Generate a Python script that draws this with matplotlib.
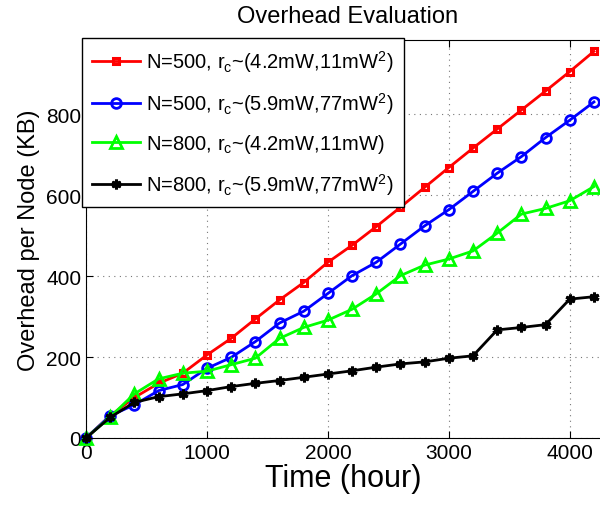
import matplotlib
matplotlib.use("Agg")
import matplotlib.pyplot as plt

plt.rcParams['font.family'] = ['Liberation Sans', 'DejaVu Sans']
plt.rcParams['mathtext.default'] = 'regular'

# hours, one sample every 200 h
time_h = [0, 200, 400, 600, 800, 1000, 1200, 1400, 1600, 1800, 2000,
          2200, 2400, 2600, 2800, 3000, 3200, 3400, 3600, 3800, 4000, 4200]

n500_low = [0, 55, 100, 135, 160, 205, 246, 294, 341, 384, 434,
            476, 522, 570, 619, 668, 716, 763, 810, 857, 905, 955]
n500_high = [0, 55, 82, 117, 132, 172, 199, 238, 284, 313, 357,
             401, 434, 479, 524, 564, 609, 654, 695, 742, 785, 830]
n800_low = [0, 52, 109, 146, 160, 165, 181, 197, 246, 273, 291,
            318, 356, 401, 427, 442, 462, 506, 553, 567, 586, 621]
n800_high = [0, 51, 88, 102, 109, 117, 127, 135, 142, 150, 158,
             166, 175, 183, 188, 197, 203, 267, 273, 280, 343, 349]

labels = [r'N=500, r$_c$~(4.2mW,11mW$^2$)',
          r'N=500, r$_c$~(5.9mW,77mW$^2$)',
          r'N=800, r$_c$~(4.2mW,11mW)',
          r'N=800, r$_c$~(5.9mW,77mW$^2$)']

fig = plt.figure(figsize=(6, 5.06), dpi=100)
ax = fig.add_axes([86 / 600, 1 - 439 / 506, 514 / 600, (439 - 41) / 506])

ax.plot(time_h, n500_low, color='#ff0000', lw=2, marker='s', ms=5,
        mfc='none', mew=2.2, label=labels[0], clip_on=False)
ax.plot(time_h, n500_high, color='#0000ff', lw=2, marker='o', ms=7,
        mfc='none', mew=2, label=labels[1], clip_on=False)
ax.plot(time_h, n800_low, color='#00ff00', lw=2, marker='^', ms=8,
        mfc='none', mew=2, label=labels[2], clip_on=False)
ax.plot(time_h, n800_high, color='black', lw=2, marker=(6, 2, 0), ms=7,
        mew=2.2, label=labels[3], clip_on=False)

ax.set_xlim(0, 4250)
ax.set_ylim(0, 983)
ax.set_xticks([0, 1000, 2000, 3000, 4000])
ax.set_yticks([0, 200, 400, 600, 800])
ax.tick_params(direction='in', length=5, labelsize=15, top=True, right=False)
ax.spines['right'].set_visible(False)
ax.grid(True, color='#777777', linestyle=(0, (1, 4)), linewidth=0.8)

ax.set_xlabel('Time (hour)', fontsize=22, labelpad=1)
ax.set_ylabel('Overhead per Node (KB)', fontsize=17, labelpad=4)
fig.text(348 / 600, 1 - 17 / 506, 'Overhead Evaluation', fontsize=17,
         ha='center', va='center')

leg = ax.legend(loc='upper left', bbox_to_anchor=(82 / 600, 1 - 39 / 506),
                bbox_transform=fig.transFigure, fontsize=14.5, numpoints=1,
                handlelength=2.4, labelspacing=0.8, borderaxespad=0,
                fancybox=False, edgecolor='black', framealpha=1,
                borderpad=0.5, handletextpad=0.3)
leg.get_frame().set_linewidth(1)
leg.set_zorder(5)

fig.savefig('out.png', dpi=100)
